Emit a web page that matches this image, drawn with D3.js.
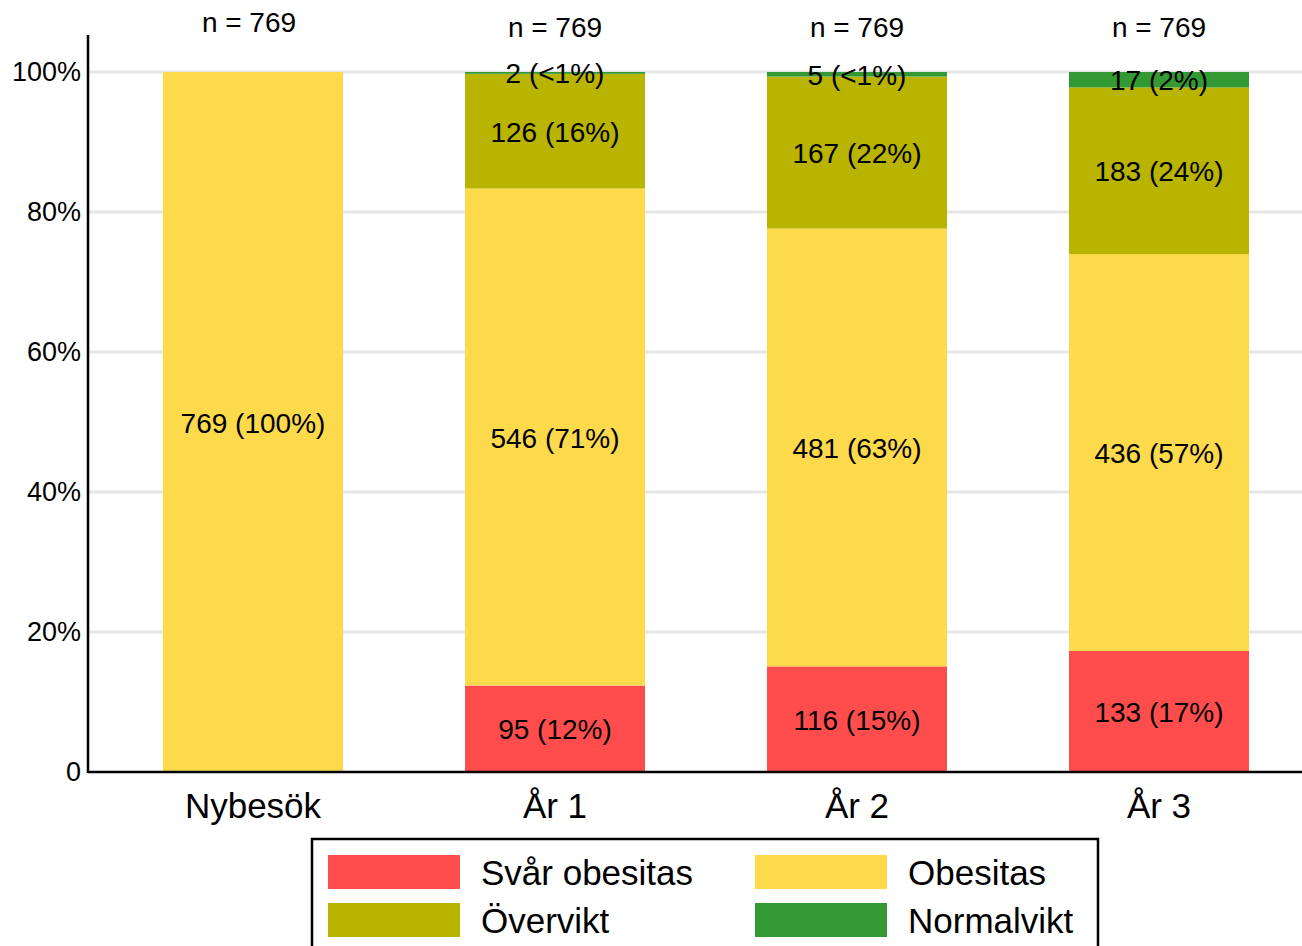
<!DOCTYPE html>
<html><head><meta charset="utf-8">
<script src="https://cdn.jsdelivr.net/npm/d3@7"></script>
<style>html,body{margin:0;padding:0;background:#fff;}svg{display:block;font-family:"Liberation Sans",Arial,sans-serif;}</style>
</head><body>
<svg id="chart" width="1302" height="946"></svg>
<script>
const categories = ["Nybesök", "År 1", "År 2", "År 3"];
const seriesNames = ["Svår obesitas", "Obesitas", "Övervikt", "Normalvikt"];
const seriesColors = ["#FF4D4D", "#FDD94C", "#B8B400", "#339933"];
const svarObesitas = [0, 95, 116, 133];
const obesitas = [769, 546, 481, 436];
const overvikt = [0, 126, 167, 183];
const normalvikt = [0, 2, 5, 17];
const totals = [769, 769, 769, 769];
const yTicks = [0, 0.2, 0.4, 0.6, 0.8, 1.0];
const yTickLabels = ["0", "20%", "40%", "60%", "80%", "100%"];

(function () {
const svg = d3.select("#chart");
const mLeft = 88, mRight = 1302, mTop = 72, mBottom = 772;
const x = d3.scaleBand().domain(categories).range([102, 1310]).paddingInner(122/302).paddingOuter(61/302);
const y = d3.scaleLinear().domain([0, 1]).range([mBottom, mTop]);

// grid
svg.append("g").selectAll("line").data(yTicks.filter(d => d > 0)).join("line")
  .attr("x1", mLeft).attr("x2", mRight).attr("y1", d => y(d)).attr("y2", d => y(d))
  .attr("stroke", "#e6e6e6").attr("stroke-width", 3);

const seriesVals = [svarObesitas, obesitas, overvikt, normalvikt];
const rows = categories.map((c, i) => {
  const r = {cat: c, total: totals[i]};
  seriesNames.forEach((s, j) => r[s] = seriesVals[j][i] / totals[i]);
  return r;
});
const stack = d3.stack().keys(seriesNames)(rows);

const g = svg.append("g");
stack.forEach((layer, j) => {
  g.append("g").selectAll("rect").data(layer).join("rect")
    .attr("x", d => x(d.data.cat)).attr("width", x.bandwidth())
    .attr("y", d => y(d[1])).attr("height", d => y(d[0]) - y(d[1]))
    .attr("fill", seriesColors[j]);
});
// labels
stack.forEach((layer, j) => {
  g.append("g").selectAll("text").data(layer.filter((d, i) => seriesVals[j][i] > 0)).join("text")
    .attr("x", d => x(d.data.cat) + x.bandwidth() / 2)
    .attr("y", d => (y(d[0]) + y(d[1])) / 2 + 1)
    .attr("text-anchor", "middle").attr("dominant-baseline", "central")
    .attr("font-size", 28).attr("fill", "#000")
    .text(d => {
      const cnt = Math.round((d[1] - d[0]) * d.data.total);
      const p = (d[1] - d[0]) * 100;
      return cnt + " (" + (p < 1 ? "<1" : Math.round(p)) + "%)";
    });
});
// n labels
svg.append("g").selectAll("text").data(rows).join("text")
  .attr("x", (d, i) => x(d.cat) + x.bandwidth() / 2 - (i === 0 ? 4 : 0)).attr("y", (d, i) => i === 0 ? 32 : 37)
  .attr("text-anchor", "middle").attr("font-size", 28).text(d => "n = " + d.total);

// axes
svg.append("line").attr("x1", mLeft).attr("x2", mLeft).attr("y1", 35).attr("y2", mBottom + 1)
  .attr("stroke", "#000").attr("stroke-width", 2.5);
svg.append("line").attr("x1", mLeft).attr("x2", mRight).attr("y1", mBottom).attr("y2", mBottom)
  .attr("stroke", "#000").attr("stroke-width", 2.5);
svg.append("g").selectAll("text").data(yTicks).join("text")
  .attr("x", 81).attr("y", d => y(d)).attr("dominant-baseline", "central")
  .attr("text-anchor", "end").attr("font-size", 27).text((d, i) => yTickLabels[i]);
svg.append("g").selectAll("text").data(categories).join("text")
  .attr("x", d => x(d) + x.bandwidth() / 2).attr("y", 805).attr("dominant-baseline", "central")
  .attr("text-anchor", "middle").attr("font-size", 35).text(d => d);

// legend
const lg = svg.append("g");
lg.append("rect").attr("x", 312).attr("y", 839).attr("width", 786).attr("height", 130)
  .attr("fill", "#fff").attr("stroke", "#000").attr("stroke-width", 2.5);
seriesNames.forEach((s, j) => {
  const col = j % 2, row = Math.floor(j / 2);
  const sx = 328 + col * 427, sy = 855 + row * 48;
  lg.append("rect").attr("x", sx).attr("y", sy).attr("width", 132).attr("height", 34).attr("fill", seriesColors[j]);
  lg.append("text").attr("x", sx + 153).attr("y", sy + 17).attr("dominant-baseline", "central")
    .attr("font-size", 35).text(s);
});
})();
</script>
</body></html>
